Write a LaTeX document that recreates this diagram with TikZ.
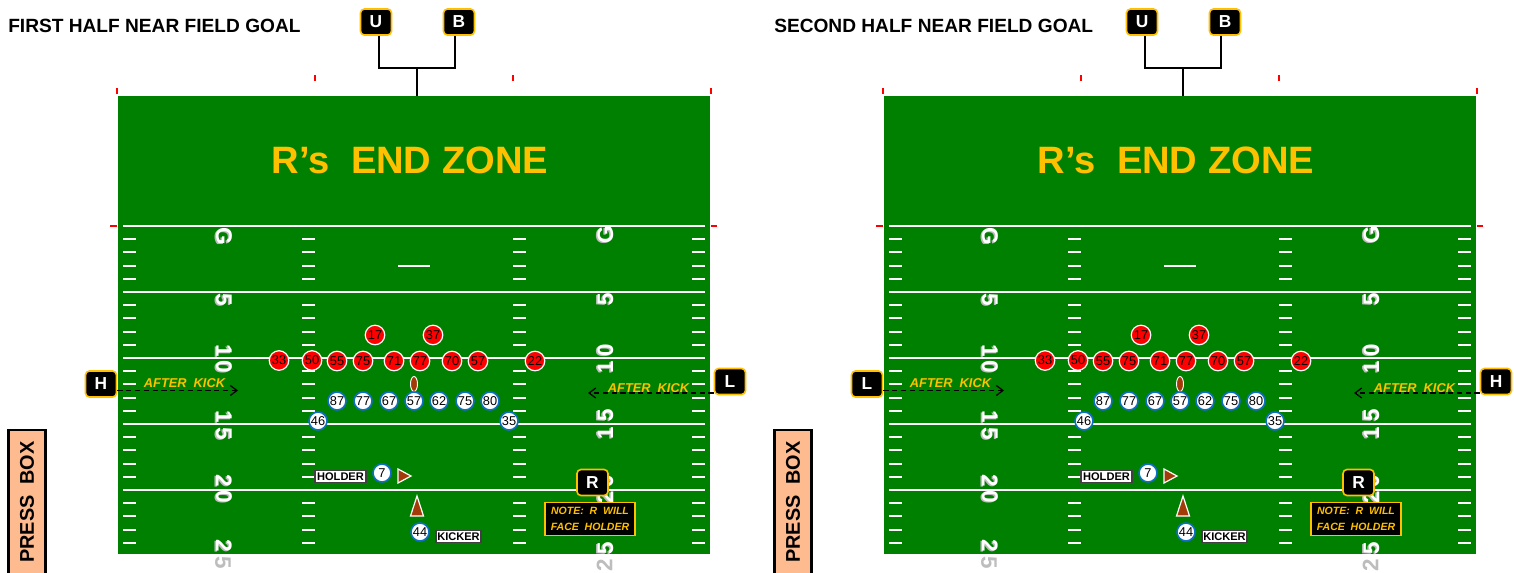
\documentclass[tikz,border=0pt]{standalone}
\usepackage{fontspec}
\setmainfont{Liberation Sans}
\usetikzlibrary{arrows.meta,shapes.geometric}
\definecolor{turf}{HTML}{008000}
\definecolor{gold}{HTML}{FFC000}
\definecolor{boxorange}{HTML}{FFBB90}
\definecolor{ballbrown}{HTML}{A33B08}
\definecolor{playerblue}{HTML}{0F6FC6}
\definecolor{digitshade}{HTML}{BDBDBD}
\newlength\pxx \setlength\pxx{0.75pt}
\newcounter{dg}
\tikzset{
  x=0.75pt,y=-0.75pt,
  official/.style={draw=gold,fill=black,rounded corners=3pt,line width=1.2pt,text=white,
    minimum width=31\pxx,minimum height=26\pxx,inner sep=0pt,font=\fontsize{13}{13}\selectfont\bfseries},
  redp/.style={circle,draw=white,fill=red,line width=0.9pt,minimum size=19.5\pxx,inner sep=0pt,
    font=\fontsize{9.6}{9.6}\selectfont},
  bluep/.style={circle,draw=playerblue,fill=white,line width=1.2pt,minimum size=18\pxx,inner sep=0pt,
    font=\fontsize{9.6}{9.6}\selectfont},
  tagbox/.style={draw=black!75,fill=white,line width=0.8pt,inner sep=0pt,minimum height=12.5\pxx,
    font=\fontsize{8.3}{8.3}\selectfont\bfseries},
  fieldline/.style={draw=white,line width=1.5pt},
  hashmark/.style={draw=white,line width=1.5pt},
  redtick/.style={draw=red,line width=1.5pt},
  yardnum/.style={inner sep=0pt,text=white,font=\fontsize{16.8}{16.8}\selectfont\bfseries},
  yardshade/.style={inner sep=0pt,text=digitshade,font=\fontsize{16.8}{16.8}\selectfont\bfseries},
  kicknote/.style={inner sep=0pt,text=gold,font=\fontsize{9.6}{9.6}\selectfont\bfseries\itshape},
  dashline/.style={draw=black,line width=0.95pt,dash pattern=on 4pt off 2.6pt,-{Straight Barb[length=5pt,width=7.5pt]}},
  bracket/.style={draw=black,line width=1.4pt},
  marker/.style={fill=ballbrown,draw=white,line width=0.9pt},
}
\newcommand\digitL[3]{\stepcounter{dg}%
  \node[yardshade,rotate=-90] (sd\thedg) at (#1-1.5,#2+1) {#3};
  \node[yardnum,rotate=-90] (dd\thedg) at (#1,#2) {#3};}
\newcommand\digitR[3]{\stepcounter{dg}%
  \node[yardshade,rotate=90] (sd\thedg) at (#1-1.5,#2+1) {#3};
  \node[yardnum,rotate=90] (dd\thedg) at (#1,#2) {#3};}
\newcommand\onefield[5]{%
\begin{scope}[xshift=#2*0.75pt]
  \fill[turf] (118,96) rectangle (710,554);
  \foreach \yy in {226,292,358,424,490} \draw[fieldline] (123,\yy) -- (705,\yy);
  \foreach \k in {1,2,3,4,6,7,8,9,11,12,13,14,16,17,18,19,21,22,23,24} {
    \pgfmathsetmacro\yy{round(226+13.2*\k)}
    \foreach \xa/\xb in {123/136,302/315,513/526,692/705} \draw[hashmark] (\xa,\yy) -- (\xb,\yy);
  }
  \draw[hashmark] (398,266) -- (430,266);
  \foreach \xx in {117,711} \draw[redtick] (\xx,88) -- (\xx,94);
  \foreach \xx in {315,513} \draw[redtick] (\xx,75) -- (\xx,81);
  \draw[redtick] (110,226.5) -- (117,226.5);
  \draw[redtick] (711,226.5) -- (717,226.5);
  \digitL{224}{236.5}{G}\digitL{224}{299.5}{5}
  \digitL{224}{350.5}{1}\digitL{224}{367}{0}
  \digitL{224}{417}{1}\digitL{224}{433.5}{5}
  \digitL{224}{481}{2}\digitL{224}{497}{0}
  \digitL{224}{546}{2}
  \node[yardshade,rotate=-90] (#1-gl) at (223,562.5) {5};
  \digitR{605.5}{235}{G}\digitR{605.5}{299.5}{5}
  \digitR{605.5}{350}{0}\digitR{605.5}{367.5}{1}
  \digitR{605.5}{415.5}{5}\digitR{605.5}{433}{1}
  \digitR{605.5}{481}{0}\digitR{605.5}{497}{2}
  \digitR{605.5}{548}{5}
  \node[yardshade,rotate=90] (#1-gr) at (604.5,565) {2};
  \node[inner sep=0pt,text=gold,font=\fontsize{28.6}{28.6}\selectfont\bfseries] (#1-ez) at (410,160) {R’s\ \ END ZONE};
  \node[anchor=west,inner sep=0pt,font=\fontsize{14.35}{14.35}\selectfont\bfseries] (#1-title) at (#3) {#4};
  \node[draw=black,fill=boxorange,line width=1.6pt,rotate=90,minimum width=144\pxx,minimum height=37\pxx,inner sep=0pt,
    font=\fontsize{14.9}{14.9}\selectfont\bfseries] (#1-press) at (27,502) {PRESS\ \ BOX};
  \node[official] (#1-U) at (376,22) {U};
  \node[official] (#1-B) at (459,22) {B};
  \coordinate (#1-J) at (417,68);
  \coordinate (#1-F) at (417,96);
  \draw[bracket] ([xshift=2pt]#1-U.south) |- (#1-J);
  \draw[bracket] ([xshift=-3pt]#1-B.south) |- (#1-J);
  \draw[bracket] (#1-J) -- (#1-F);
  \node[official] (#1-WL) at (101,384) {#5};
  \node[official] (#1-WR) at (730,381.5) {\ifx#5HL\else H\fi};
  \coordinate (#1-aL) at (238,390.5);
  \coordinate (#1-aR) at (588,393);
  \draw[dashline] (#1-WL.east |- #1-aL) -- (#1-aL);
  \draw[dashline] (#1-WR.west |- #1-aR) -- (#1-aR);
  \node[kicknote] (#1-kL) at (184.5,383.5) {AFTER\ \ KICK};
  \node[kicknote] (#1-kR) at (648.5,388.5) {AFTER\ \ KICK};
  \foreach \n/\x/\y in {33/279/360.5,50/312/360.5,55/337/361,75/363/361,71/394/361,77/420/361,70/452/361,57/478/361,22/535/361,17/375/335,37/433/335}
    \node[redp] (#1-r\n) at (\x,\y) {\n};
  \node[ellipse,fill=ballbrown,draw=white,line width=0.7pt,minimum width=7\pxx,minimum height=15\pxx,inner sep=0pt] (#1-ball) at (414,384) {};
  \foreach \n/\x/\y in {87/337/401,77/363/401,67/389/401,57/414/401,62/439/401,75/465/401,80/490/401,46/318/421,35/509/421,7/382/473,44/420/532}
    \node[bluep] (#1-b\n) at (\x,\y) {\n};
  \node[tagbox,minimum width=51\pxx] (#1-hold) at (340.5,476.5) {HOLDER};
  \node[tagbox,minimum width=45\pxx] (#1-kick) at (458.5,536.5) {KICKER};
  \draw[marker] (398,469) -- (411,476) -- (398,483) -- cycle;
  \draw[marker] (417,496) -- (423.5,516) -- (410.5,516) -- cycle;
  \node[official] (#1-R) at (592.5,482.5) {R};
  \node[draw=gold,fill=black,line width=1.1pt,minimum width=90\pxx,minimum height=33\pxx,inner sep=0pt,align=center,text=gold,
    font=\fontsize{7.9}{12}\selectfont\bfseries\itshape] (#1-note) at (590,519) {NOTE:\ \ R\ \ WILL\\FACE\ \ HOLDER};
\end{scope}}
\begin{document}
\begin{tikzpicture}
\clip (0,0) rectangle (1514,573);
\fill[white] (0,0) rectangle (1514,573);
\onefield{a}{0}{8,26}{FIRST HALF NEAR FIELD GOAL}{H}
\onefield{b}{766}{8,26}{SECOND HALF NEAR FIELD GOAL}{L}
\end{tikzpicture}
\end{document}
